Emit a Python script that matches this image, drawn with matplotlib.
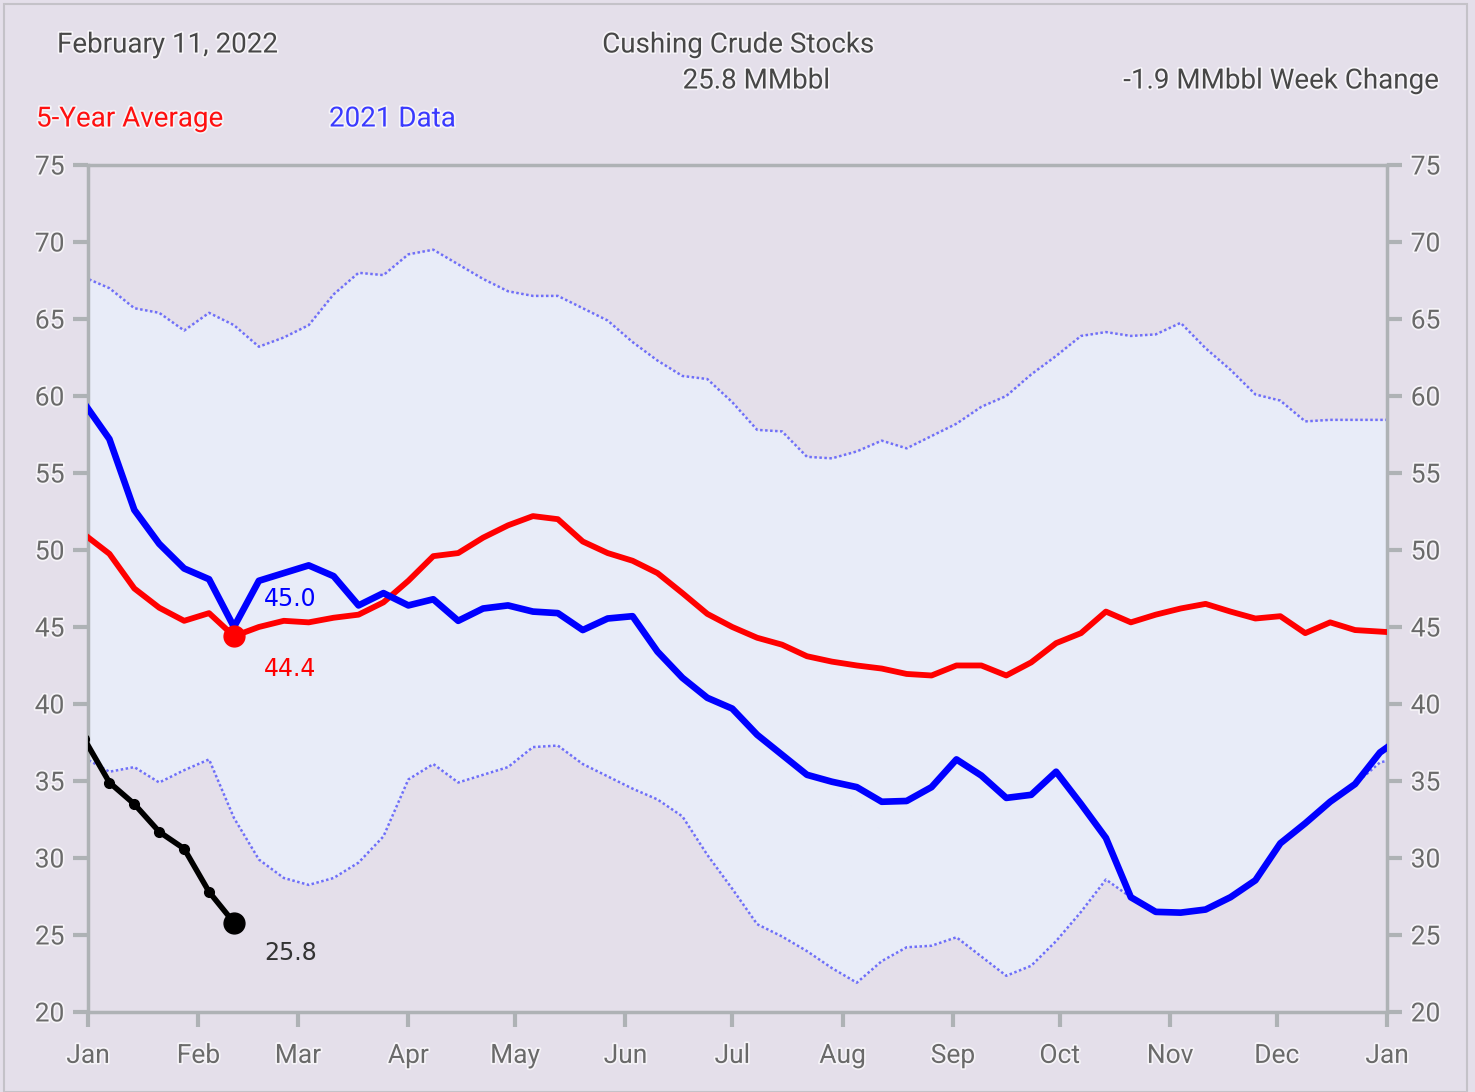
import numpy as np
import matplotlib
matplotlib.use("Agg")
import matplotlib.pyplot as plt
import matplotlib.patheffects as pe
from matplotlib.patches import Rectangle

plt.rcParams['font.family'] = ['Roboto', 'DejaVu Sans']

# weekly report days, as day offset from Jan 1
week_day = np.arange(-1, 371, 7)

avg5 = [51.0, 49.75, 47.5, 46.25, 45.4, 45.9, 44.4, 45.0, 45.4, 45.3,
        45.6, 45.8, 46.6, 48.0, 49.6, 49.8, 50.8, 51.6, 52.2, 52.0,
        50.55, 49.8, 49.3, 48.5, 47.2, 45.85, 45.0, 44.3, 43.85, 43.1,
        42.75, 42.5, 42.3, 41.95, 41.85, 42.5, 42.5, 41.85, 42.7, 43.95,
        44.6, 46.0, 45.3, 45.8, 46.2, 46.5, 46.0, 45.55, 45.7, 44.6,
        45.3, 44.8, 44.7, 44.6]
data2021 = [59.5, 57.2, 52.6, 50.4, 48.8, 48.1, 45.0, 48.0, 48.5, 49.0,
            48.3, 46.4, 47.2, 46.4, 46.8, 45.4, 46.2, 46.4, 46.0, 45.9,
            44.8, 45.55, 45.7, 43.4, 41.7, 40.4, 39.7, 38.0, 36.7, 35.4,
            34.95, 34.6, 33.65, 33.7, 34.6, 36.4, 35.35, 33.9, 34.1, 35.6,
            33.5, 31.3, 27.45, 26.5, 26.45, 26.65, 27.45, 28.55, 30.95, 32.25,
            33.65, 34.8, 36.85, 38.0]
range_hi = [67.7, 67.0, 65.7, 65.4, 64.25, 65.4, 64.6, 63.2, 63.8, 64.6,
            66.6, 68.0, 67.85, 69.2, 69.5, 68.55, 67.6, 66.8, 66.5, 66.5,
            65.7, 64.9, 63.5, 62.3, 61.3, 61.1, 59.6, 57.8, 57.7, 56.05,
            55.95, 56.4, 57.1, 56.6, 57.4, 58.2, 59.3, 60.0, 61.4, 62.6,
            63.9, 64.15, 63.9, 64.0, 64.75, 63.1, 61.7, 60.1, 59.7, 58.35,
            58.45, 58.45, 58.45, 58.45]
range_lo = [36.5, 35.6, 35.9, 34.9, 35.7, 36.4, 32.6, 29.9, 28.7, 28.25,
            28.7, 29.7, 31.4, 35.1, 36.1, 34.9, 35.4, 35.9, 37.2, 37.3,
            36.1, 35.3, 34.5, 33.8, 32.7, 30.2, 28.0, 25.7, 24.9, 23.95,
            22.85, 21.9, 23.3, 24.2, 24.3, 24.85, 23.6, 22.35, 23.0, 24.6,
            26.5, 28.6, 27.45, 26.5, 26.45, 26.65, 27.45, 28.55, 30.95, 32.25,
            33.65, 34.8, 36.2, 36.6]

days2022 = [-1, 6, 13, 20, 27, 34, 41]
data2022 = [37.7, 34.9, 33.5, 31.7, 30.6, 27.8, 25.8]

month_days = [0, 31, 59, 90, 120, 151, 181, 212, 243, 273, 304, 334, 365]
month_labels = ['Jan', 'Feb', 'Mar', 'Apr', 'May', 'Jun', 'Jul', 'Aug',
                'Sep', 'Oct', 'Nov', 'Dec', 'Jan']

bg = '#e4dfea'
band = '#e8ecf8'
grey = '#aeb2b5'
txt = '#474747'
halo = [pe.withStroke(linewidth=2.5, foreground='#f6f4f8')]

fig = plt.figure(figsize=(14.75, 10.92), dpi=100, facecolor=bg)
ax = fig.add_axes([0.0597, 0.0733, 0.8807, 0.7756], facecolor=bg)

ax.fill_between(week_day, range_lo, range_hi, color=band, lw=0, zorder=1)
ax.plot(week_day, range_hi, color='#6f6ff8', lw=1.8, ls=(0, (1, 1)), zorder=2)
ax.plot(week_day, range_lo, color='#6f6ff8', lw=1.8, ls=(0, (1, 1)), zorder=2)

ax.plot(week_day, avg5, color='#ff0000', lw=4.2, zorder=3)
ax.plot(week_day, data2021, color='#0000ff', lw=4.8, zorder=4)
ax.plot(days2022, data2022, color='black', lw=4.0, marker='o', ms=7, zorder=5)

ax.plot(days2022[-1], avg5[6], 'o', color='#ff0000', ms=15, zorder=6)
ax.plot(days2022[-1], data2022[-1], 'o', color='black', ms=15, zorder=6)

ax.text(days2022[-1] + 8.5, data2021[6] + 1.8, f'{data2021[6]:.1f}', color='#0000ff',
        fontsize=17, family='DejaVu Sans', va='center', ha='left', zorder=7)
ax.text(days2022[-1] + 8.5, avg5[6] - 2.1, f'{avg5[6]:.1f}', color='#ff0000',
        fontsize=17, family='DejaVu Sans', va='center', ha='left', zorder=7)
ax.text(days2022[-1] + 8.5, data2022[-1] - 2.0, f'{data2022[-1]:.1f}', color='#333333',
        fontsize=17, family='DejaVu Sans', va='center', ha='left', zorder=7)

ax.set_xlim(0, 365)
ax.set_ylim(20, 75)
ax.set_xticks(month_days)
ax.set_xticklabels(month_labels)
ax.set_yticks(range(20, 80, 5))
ax.tick_params(axis='both', colors=grey, width=3, length=11, labelsize=19,
               labelcolor='#6a6a6a')
ax.tick_params(axis='y', left=True, right=True, labelleft=True, labelright=True, pad=6)
ax.tick_params(axis='x', pad=12)
for s in ax.spines.values():
    s.set_color(grey)
    s.set_linewidth(2.5)
for lab in ax.get_xticklabels() + ax.get_yticklabels():
    lab.set_path_effects(halo)

fig.text(57 / 1475, 1 - 45 / 1092, 'February 11, 2022', fontsize=20, color=txt,
         ha='left', va='center', path_effects=halo)
fig.text(738 / 1475, 1 - 45 / 1092, 'Cushing Crude Stocks', fontsize=20, color=txt,
         ha='center', va='center', path_effects=halo)
fig.text(756 / 1475, 1 - 81 / 1092, f'{data2022[-1]:.1f} MMbbl', fontsize=20, color=txt,
         ha='center', va='center', path_effects=halo)
fig.text(1438 / 1475, 1 - 81 / 1092, '-1.9 MMbbl Week Change', fontsize=20, color=txt,
         ha='right', va='center', path_effects=halo)
fig.text(36 / 1475, 1 - 119 / 1092, '5-Year Average', fontsize=20, color='#ff1010',
         ha='left', va='center', path_effects=halo)
fig.text(329 / 1475, 1 - 119 / 1092, '2021 Data', fontsize=20, color='#3a3aff',
         ha='left', va='center', path_effects=halo)

fig.patches.append(Rectangle((4 / 1475, 0.0), 1463 / 1475, 1 - 4 / 1092,
                             transform=fig.transFigure, fill=False,
                             edgecolor='#c4c2c8', lw=1.5))

fig.savefig('out.png', dpi=100, facecolor=bg)
